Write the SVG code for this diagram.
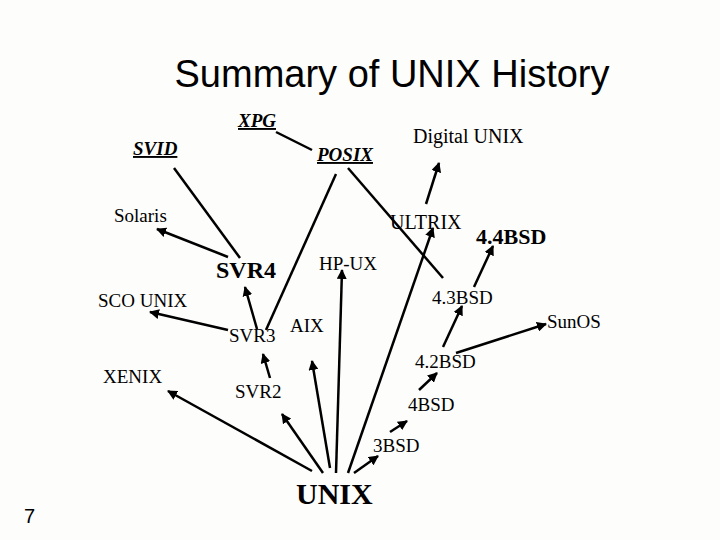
<svg xmlns="http://www.w3.org/2000/svg" width="720" height="540" viewBox="0 0 720 540">
<style>
.t{font-family:"Liberation Serif",serif;font-size:19px;fill:#000}
.b{font-weight:bold}
.u{font-weight:bold;font-style:italic;text-decoration:underline}
.c line{stroke:#000;stroke-width:2.5}
.a{marker-end:url(#ah)}
</style>
<defs><marker id="ah" viewBox="0 0 10 10" refX="9" refY="5" markerWidth="4" markerHeight="4" orient="auto" markerUnits="strokeWidth"><path d="M0,0L10,5L0,10z" fill="#000"/></marker></defs>
<rect width="720" height="540" fill="#fdfdfb"/>
<text x="392" y="87" text-anchor="middle" style="font-family:'Liberation Sans',sans-serif;font-size:38px">Summary of UNIX History</text>
<text x="24" y="523" style="font-family:'Liberation Sans',sans-serif;font-size:20px">7</text>
<g class="c">
<line x1="276" y1="132" x2="312" y2="150"/>
<line x1="174" y1="168" x2="240" y2="258"/>
<line class="a" x1="228" y1="257" x2="157" y2="229"/>
<line x1="336" y1="174" x2="266" y2="330"/>
<line x1="348" y1="168" x2="443" y2="278"/>
<line class="a" x1="426" y1="204" x2="439" y2="163"/>
<line class="a" x1="474" y1="287" x2="493" y2="246"/>
<line class="a" x1="257" y1="329" x2="245" y2="287"/>
<line class="a" x1="228" y1="330" x2="150" y2="312"/>
<line class="a" x1="336" y1="473" x2="342" y2="270"/>
<line class="a" x1="348" y1="473" x2="433" y2="228"/>
<line class="a" x1="443" y1="347" x2="462" y2="306"/>
<line class="a" x1="456" y1="353" x2="546" y2="324"/>
<line class="a" x1="270" y1="378" x2="263" y2="354"/>
<line class="a" x1="312" y1="471" x2="168" y2="391"/>
<line class="a" x1="323" y1="473" x2="282" y2="414"/>
<line class="a" x1="330" y1="468" x2="312" y2="361"/>
<line class="a" x1="354" y1="473" x2="378" y2="456"/>
<line class="a" x1="390" y1="432" x2="407" y2="421"/>
<line class="a" x1="419" y1="390" x2="437" y2="373"/>
</g>
<g id="xpg"><text class="t u" x="238" y="127">XPG</text></g>
<g id="svid"><text class="t u" x="133" y="155">SVID</text></g>
<g id="posix"><text class="t u" x="317" y="161">POSIX</text></g>
<g id="digital"><text class="t" x="413" y="143" style="font-size:20px">Digital UNIX</text></g>
<g id="solaris"><text class="t" x="114" y="222">Solaris</text></g>
<g id="ultrix"><text class="t" x="390" y="229" style="font-size:20px">ULTRIX</text></g>
<g id="bsd44"><text class="t b" x="476" y="244" style="font-size:22px">4.4BSD</text></g>
<g id="svr4"><text class="t b" x="216" y="278" style="font-size:24px">SVR4</text></g>
<g id="hpux"><text class="t" x="319" y="270">HP-UX</text></g>
<g id="sco"><text class="t" x="98" y="307">SCO UNIX</text></g>
<g id="bsd43"><text class="t" x="432" y="304">4.3BSD</text></g>
<g id="sunos"><text class="t" x="547" y="328">SunOS</text></g>
<g id="svr3"><text class="t" x="229" y="342">SVR3</text></g>
<g id="aix"><text class="t" x="290" y="332">AIX</text></g>
<g id="xenix"><text class="t" x="103" y="383">XENIX</text></g>
<g id="bsd42"><text class="t" x="415" y="368">4.2BSD</text></g>
<g id="svr2"><text class="t" x="235" y="398">SVR2</text></g>
<g id="bsd4"><text class="t" x="408" y="411">4BSD</text></g>
<g id="bsd3"><text class="t" x="373" y="452">3BSD</text></g>
<g id="unix"><text class="t b" x="296" y="504" style="font-size:30px">UNIX</text></g>
</svg>
